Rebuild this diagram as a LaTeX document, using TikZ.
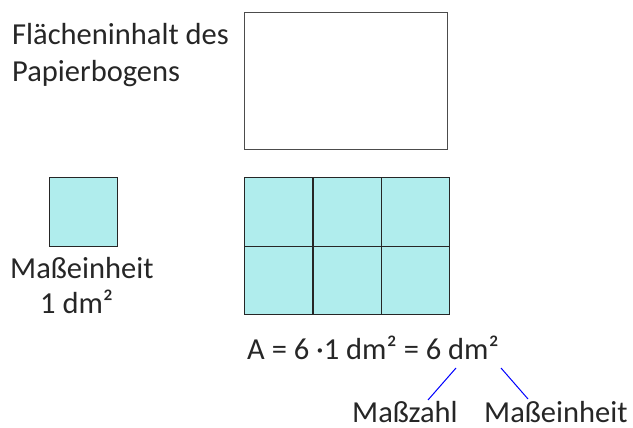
\documentclass[tikz,border=0pt]{standalone}
\usepackage{fontspec}
\setmainfont{Carlito}
\definecolor{unitfill}{RGB}{176,237,237}
\begin{document}
\begin{tikzpicture}[x=1pt,y=-1pt,
  every node/.style={font=\fontsize{30.5}{37}\selectfont, text=black!85},
  lbl/.style={anchor=base west, inner sep=0pt},
  sheet/.style={draw=black!70, line width=1.4pt, fill=white, anchor=north west,
    minimum width=203pt, minimum height=137pt, inner sep=0pt},
  cell/.style={draw=black!85, line width=1.4pt, fill=unitfill, anchor=north west,
    minimum width=68.3pt, minimum height=68.5pt, inner sep=0pt},
  link/.style={draw=blue, line width=1pt}]
\useasboundingbox (0,0) rectangle (633,428);

% sheet of paper
\node[lbl] (t1) at (12,45) {Flächeninhalt des};
\node[lbl] (t2) at (12,82) {Papierbogens};
\node[sheet] (sheet) at (244,12) {};

% unit square
\node[cell, minimum width=68pt, minimum height=69pt] (unit) at (49,177) {};
\node[lbl] (u1) at (10,278) {Maßeinheit};
\node[lbl] (u2) at (40,313) {1 dm²};

% sheet covered by six unit squares
\foreach \i in {0,1,2} {
  \foreach \j in {0,1} {
    \node[cell] (c\i\j) at ({244+68.3*\i},{177+68.5*\j}) {};
  }
}

% formula and the names of its parts
\node[lbl] (eq) at (247,359) {A = 6 ·1 dm² = 6 dm²};
\node[lbl, text depth=0pt] (zahl) at (352,422) {Maßzahl};
\node[lbl, text depth=0pt] (einh) at (484,422) {Maßeinheit};
\coordinate (z1) at (428,400);
\coordinate (z2) at (456,368);
\coordinate (e1) at (501,368);
\coordinate (e2) at (528,399);
\draw[link] (z1) -- (z2);
\draw[link] (e1) -- (e2);
\end{tikzpicture}
\end{document}
